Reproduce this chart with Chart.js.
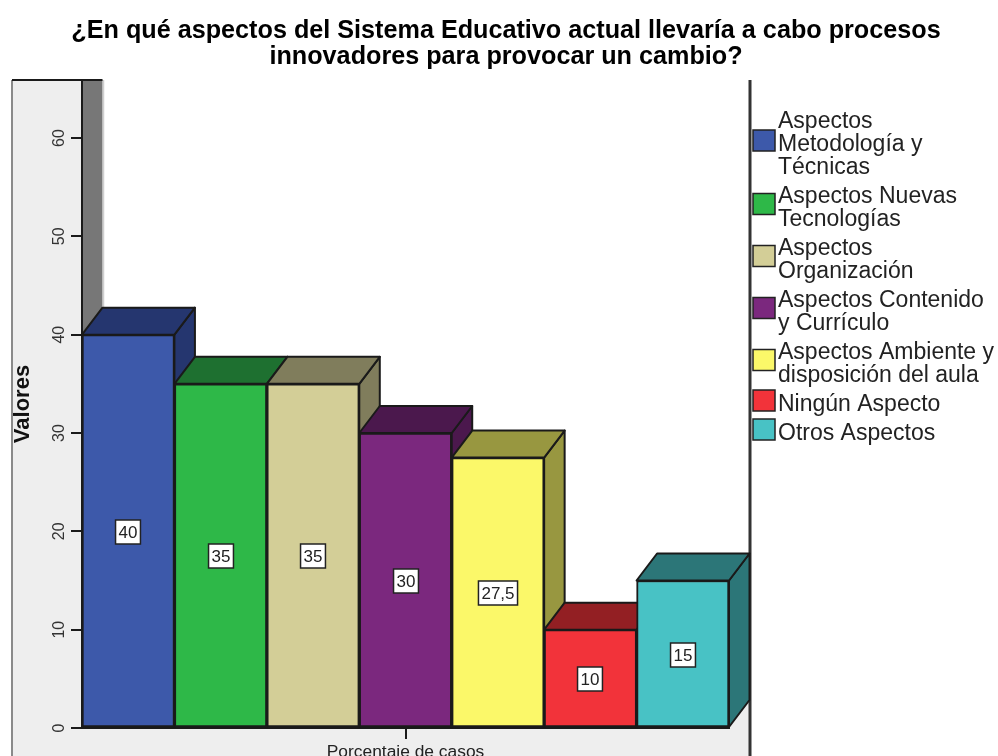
<!DOCTYPE html>
<html>
<head>
<meta charset="utf-8">
<style>
html, body { margin: 0; padding: 0; background: #fff; overflow: hidden; }
#wrap { width: 998px; height: 756px; }
</style>
<script src="https://cdn.jsdelivr.net/npm/chart.js@4"></script>
</head>
<body>
<div id="wrap"><canvas id="myChart"></canvas></div>
<script>
var categories = ['Porcentaje de casos'];
var seriesNames = [
    ['Aspectos', 'Metodología y', 'Técnicas'],
    ['Aspectos Nuevas', 'Tecnologías'],
    ['Aspectos', 'Organización'],
    ['Aspectos Contenido', 'y Currículo'],
    ['Aspectos Ambiente y', 'disposición del aula'],
    ['Ningún Aspecto'],
    ['Otros Aspectos']
];
var seriesValues = [40, 35, 35, 30, 27.5, 10, 15];
var frontColors = ['#3d59aa', '#2eb848', '#d3ce97', '#7b287e', '#fbf869', '#f2333a', '#48c2c5'];
var shadeColors = ['#25366f', '#1e7030', '#807d5c', '#4b184d', '#989740', '#931f23', '#2c7678'];
var titleLines = [
    '¿En qué aspectos del Sistema Educativo actual llevaría a cabo procesos',
    'innovadores para provocar un cambio?'
];

var FONT = '"Liberation Sans", Arial, sans-serif';
var DX = 20.5, DY = 27;
var LINE = '#1a1a1a';

function poly(ctx, pts, fill, stroke) {
    ctx.beginPath();
    ctx.moveTo(pts[0][0], pts[0][1]);
    for (var i = 1; i < pts.length; i++) ctx.lineTo(pts[i][0], pts[i][1]);
    ctx.closePath();
    if (fill) { ctx.fillStyle = fill; ctx.fill(); }
    if (stroke) { ctx.strokeStyle = stroke; ctx.lineWidth = 2; ctx.stroke(); }
}

var box3d = {
    id: 'box3d',
    beforeDraw: function (chart) {
        var ctx = chart.ctx, a = chart.chartArea;
        var wallRight = a.right + 21;
        ctx.save();
        ctx.fillStyle = '#eeeeee';
        ctx.fillRect(12, a.top, wallRight - 12, chart.height - a.top);
        // back wall
        ctx.fillStyle = '#ffffff';
        ctx.fillRect(a.left + DX, a.top, wallRight - a.left - DX, a.bottom - DY - a.top);
        // left wall
        poly(ctx, [[a.left, a.top], [a.left + DX, a.top], [a.left + DX, a.bottom - DY], [a.left, a.bottom]], '#777777');
        // frame
        ctx.strokeStyle = '#8a8a8a';
        ctx.lineWidth = 2;
        ctx.beginPath();
        ctx.moveTo(12, a.top);
        ctx.lineTo(12, chart.height);
        ctx.stroke();
        ctx.strokeStyle = '#cfcfcf';
        ctx.lineWidth = 1.5;
        ctx.beginPath();
        ctx.moveTo(a.left + DX + 1, a.top);
        ctx.lineTo(a.left + DX + 1, a.bottom - DY);
        ctx.stroke();
        ctx.strokeStyle = LINE;
        ctx.lineWidth = 2;
        ctx.beginPath();
        ctx.moveTo(12, a.top);
        ctx.lineTo(a.left + DX, a.top);
        ctx.stroke();
        ctx.lineWidth = 3;
        ctx.strokeStyle = '#333333';
        ctx.beginPath();
        ctx.moveTo(wallRight, a.top);
        ctx.lineTo(wallRight, chart.height);
        ctx.stroke();
        ctx.restore();
    },
    beforeDatasetsDraw: function (chart) {
        var ctx = chart.ctx;
        ctx.save();
        ctx.lineJoin = 'round';
        seriesValues.forEach(function (v, i) {
            var b = chart.getDatasetMeta(i).data[0];
            var l = b.x - b.width / 2, r = b.x + b.width / 2;
            poly(ctx, [[r, b.y], [r + DX, b.y - DY], [r + DX, b.base - DY], [r, b.base]], shadeColors[i], LINE);
            poly(ctx, [[l, b.y], [l + DX, b.y - DY], [r + DX, b.y - DY], [r, b.y]], shadeColors[i], LINE);
        });
        ctx.restore();
    },
    afterDatasetsDraw: function (chart) {
        var ctx = chart.ctx;
        ctx.save();
        ctx.font = '17px ' + FONT;
        ctx.textAlign = 'center';
        ctx.textBaseline = 'middle';
        seriesValues.forEach(function (v, i) {
            var b = chart.getDatasetMeta(i).data[0];
            var txt = String(v).replace('.', ',');
            var w = ctx.measureText(txt).width + 6;
            var cx = Math.round(b.x), cy = Math.round((b.y + b.base) / 2) + 1;
            ctx.fillStyle = '#ffffff';
            ctx.strokeStyle = '#222222';
            ctx.lineWidth = 1.5;
            ctx.fillRect(cx - w / 2, cy - 12, w, 24);
            ctx.strokeRect(cx - w / 2, cy - 12, w, 24);
            ctx.fillStyle = '#222222';
            ctx.fillText(txt, cx, cy + 1);
        });
        // legend swatches, centred on each wrapped entry
        chart.legend.legendHitBoxes.forEach(function (h, i) {
            var cy = h.top + h.height / 2 - 4;
            ctx.fillStyle = frontColors[i];
            ctx.strokeStyle = '#222222';
            ctx.lineWidth = 1.5;
            ctx.fillRect(h.left + 1, cy - 10.5, 22, 21);
            ctx.strokeRect(h.left + 1, cy - 10.5, 22, 21);
        });
        ctx.restore();
    }
};

var fixLegendWidth = {
    id: 'fixLegendWidth',
    start: function (chart) {
        var legend = chart.legend;
        var fit = legend.fit;
        legend.fit = function () {
            fit.call(legend);
            legend.width = 252;
        };
    }
};

new Chart(document.getElementById('myChart'), {
    type: 'bar',
    data: {
        labels: categories,
        datasets: seriesValues.map(function (v, i) {
            return {
                label: seriesNames[i].join(' '),
                data: [v],
                backgroundColor: frontColors[i],
                borderColor: LINE,
                borderWidth: 2,
                borderSkipped: false,
                categoryPercentage: 1,
                barPercentage: 1
            };
        })
    },
    options: {
        responsive: true,
        maintainAspectRatio: false,
        animation: false,
        layout: { padding: { left: 14 } },
        scales: {
            x: {
                afterFit: function (s) { s.height = 28; },
                grid: { offset: false, drawOnChartArea: false, color: LINE, tickLength: 11, lineWidth: 2 },
                border: { color: LINE, width: 2 },
                ticks: { color: '#222222', padding: 3, font: { family: FONT, size: 17.4 } }
            },
            y: {
                min: 0,
                max: 65.9,
                afterFit: function (s) { s.width = 68; },
                grid: { drawOnChartArea: false, color: LINE, tickLength: 11, lineWidth: 2 },
                border: { color: LINE, width: 2 },
                ticks: {
                    stepSize: 10,
                    includeBounds: false,
                    minRotation: 90,
                    maxRotation: 90,
                    crossAlign: 'center',
                    padding: 3,
                    color: '#333333',
                    font: { family: FONT, size: 16 }
                },
                title: {
                    display: true,
                    text: 'Valores',
                    color: '#111111',
                    padding: { top: -4, bottom: 0 },
                    font: { family: FONT, size: 22, weight: 'bold' }
                }
            },
            depth: {
                type: 'linear',
                position: 'right',
                display: true,
                afterFit: function (s) { s.width = 17; },
                grid: { display: false },
                border: { display: false },
                ticks: { display: false }
            }
        },
        plugins: {
            title: {
                display: true,
                text: titleLines,
                color: '#000000',
                padding: { top: 18, bottom: 10 },
                font: { family: FONT, size: 25.2, weight: 'bold', lineHeight: 26 / 25.2 }
            },
            legend: {
                position: 'right',
                align: 'start',
                title: { display: true, text: ' ', padding: { top: 103, bottom: 0 }, font: { size: 1, lineHeight: 1 } },
                labels: {
                    boxWidth: 14.5,
                    padding: 6,
                    color: '#222222',
                    font: { family: FONT, size: 23, lineHeight: 1 },
                    generateLabels: function () {
                        return seriesNames.map(function (lines, i) {
                            return { text: lines, fillStyle: 'rgba(0,0,0,0)', strokeStyle: 'rgba(0,0,0,0)', fontColor: '#222222', lineWidth: 0, datasetIndex: i };
                        });
                    }
                }
            },
            tooltip: { enabled: false }
        }
    },
    plugins: [fixLegendWidth, box3d]
});
</script>
</body>
</html>
